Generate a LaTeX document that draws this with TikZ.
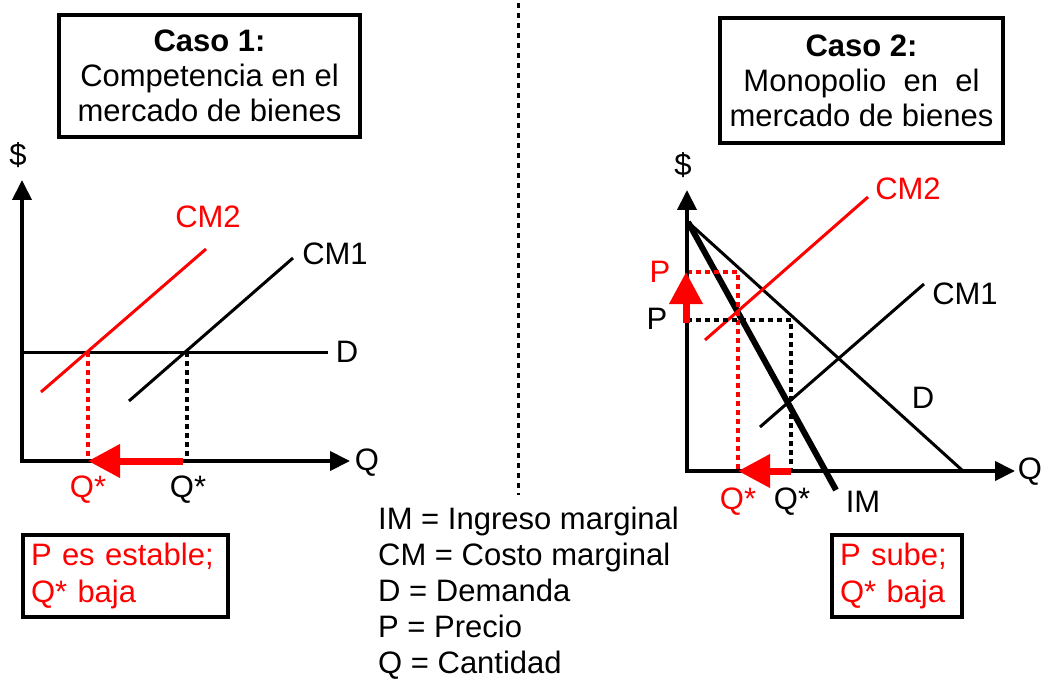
\documentclass[tikz,border=0pt]{standalone}
\usepackage{fontspec}
\setmainfont{Liberation Sans}
\usetikzlibrary{arrows.meta}
\definecolor{pured}{RGB}{255,0,0}
\begin{document}
\begin{tikzpicture}[x=1pt,y=-1pt,
  axis/.style={line width=4pt,-{Triangle[length=20pt,width=19pt]}},
  curve/.style={line width=3pt},
  thickcurve/.style={line width=6pt},
  dots/.style={line width=3.5pt,dash pattern=on 5pt off 4pt},
  shiftarrow/.style={line width=7pt,draw=pured,-{Triangle[length=32pt,width=32pt]}},
  lbl/.style={inner sep=0pt,font=\fontsize{31}{36}\selectfont},
  redlbl/.style={lbl,text=pured},
  titlebox/.style={draw,line width=3.5pt,inner sep=0pt,align=center,font=\fontsize{31}{35}\selectfont},
  notebox/.style={draw,line width=3.5pt,inner sep=8pt,align=left,text=pured,font=\fontsize{31}{37}\selectfont,minimum height=82pt},
  legend/.style={lbl,anchor=base west}
]
\useasboundingbox (0,0) rectangle (1047,679);

% separator
\coordinate (sepTop) at (518,3);
\coordinate (sepBot) at (518,495);
\draw[line width=3pt,dash pattern=on 5pt off 5pt] (sepTop) -- (sepBot);

% title boxes
\node[titlebox,minimum width=301pt,minimum height=122pt] (box1) at (209.5,76)
  {\textbf{Caso 1:}\\Competencia en el\\mercado de bienes};
\node[titlebox,minimum width=283pt,minimum height=125pt] (box2) at (861.5,80.5)
  {\textbf{Caso 2:}\\Monopolio\ \ en\ \ el\\mercado de bienes};

% ---------- left graph ----------
\coordinate (LYb) at (22,463);
\coordinate (LYt) at (22,180);
\coordinate (LXl) at (20,461);
\coordinate (LXr) at (350,461);
\coordinate (LDa) at (22,352);
\coordinate (LDb) at (328,352);
\coordinate (LC2a) at (41,392);
\coordinate (LC2b) at (206,249);
\coordinate (LC1a) at (129,401);
\coordinate (LC1b) at (293,258);
\coordinate (LE2) at (88,352);
\coordinate (LQ2) at (88,461);
\coordinate (LE1) at (187,352);
\coordinate (LQ1) at (187,461);
\coordinate (LArS) at (183,461);

\draw[curve] (LDa) -- (LDb);
\draw[curve,draw=pured] (LC2a) -- (LC2b);
\draw[curve] (LC1a) -- (LC1b);
\draw[dots,draw=pured] (LE2) -- (LQ2);
\draw[dots] (LE1) -- (LQ1);
\draw[axis] (LYb) -- (LYt);
\draw[axis] (LXl) -- (LXr);
\draw[shiftarrow] (LArS) -- (LQ2);

\node[lbl] (Ldollar) at (18,155) {\$};
\node[redlbl] (LCM2) at (208,217) {CM2};
\node[lbl] (LCM1) at (335,254) {CM1};
\node[lbl] (LD) at (347,352) {D};
\node[lbl] (LQ) at (367,463) {Q};
\node[redlbl] (LQs2) at (88,490) {Q*};
\node[lbl] (LQs1) at (188,490) {Q*};

% ---------- right graph ----------
\coordinate (RYb) at (687,473);
\coordinate (RYt) at (687,190);
\coordinate (RXl) at (685,471);
\coordinate (RXr) at (1015,471);
\coordinate (RTop) at (688,222);
\coordinate (RDb) at (963,471);
\coordinate (RIMb) at (836,490);
\coordinate (RC2a) at (705,340);
\coordinate (RC2b) at (868,197);
\coordinate (RC1a) at (760,427);
\coordinate (RC1b) at (924,284);
\coordinate (RPh) at (687,272);
\coordinate (RPhc) at (738,272);
\coordinate (RQh) at (738,471);
\coordinate (RPl) at (687,320);
\coordinate (RPlc) at (791,320);
\coordinate (RQl) at (791,471);
\coordinate (RUpS) at (686,323);
\coordinate (RUpT) at (686,272);

\draw[curve] (RTop) -- (RDb);
\draw[thickcurve] (RTop) -- (RIMb);
\draw[curve,draw=pured] (RC2a) -- (RC2b);
\draw[curve] (RC1a) -- (RC1b);
\draw[dots,draw=pured] (RPh) -- (RPhc) -- (RQh);
\draw[dots] (RPl) -- (RPlc) -- (RQl);
\draw[axis] (RYb) -- (RYt);
\draw[axis] (RXl) -- (RXr);
\draw[shiftarrow] (RQl) -- (RQh);
\draw[shiftarrow] (RUpS) -- (RUpT);

\node[lbl] (Rdollar) at (683,165) {\$};
\node[redlbl] (RCM2) at (908,189) {CM2};
\node[lbl] (RCM1) at (965,294) {CM1};
\node[lbl] (RD) at (923,398) {D};
\node[lbl] (RIM) at (863,502) {IM};
\node[lbl] (RQ) at (1030,472) {Q};
\node[redlbl] (RQs2) at (738,502) {Q*};
\node[lbl] (RQs1) at (792,502) {Q*};
\node[redlbl] (RP2) at (660,272) {P};
\node[lbl] (RP1) at (657,319) {P};

% ---------- notes ----------
\node[notebox,text width=189pt] (note1) at (125.5,576) {P es estable;\\Q* baja};
\node[notebox,text width=114pt] (note2) at (897,576) {P sube;\\Q* baja};

% ---------- legend ----------
\node[legend] (leg1) at (378,529) {IM = Ingreso marginal};
\node[legend] (leg2) at (378,565) {CM = Costo marginal};
\node[legend] (leg3) at (378,601) {D = Demanda};
\node[legend] (leg4) at (378,637) {P = Precio};
\node[legend] (leg5) at (378,673) {Q = Cantidad};
\end{tikzpicture}
\end{document}
